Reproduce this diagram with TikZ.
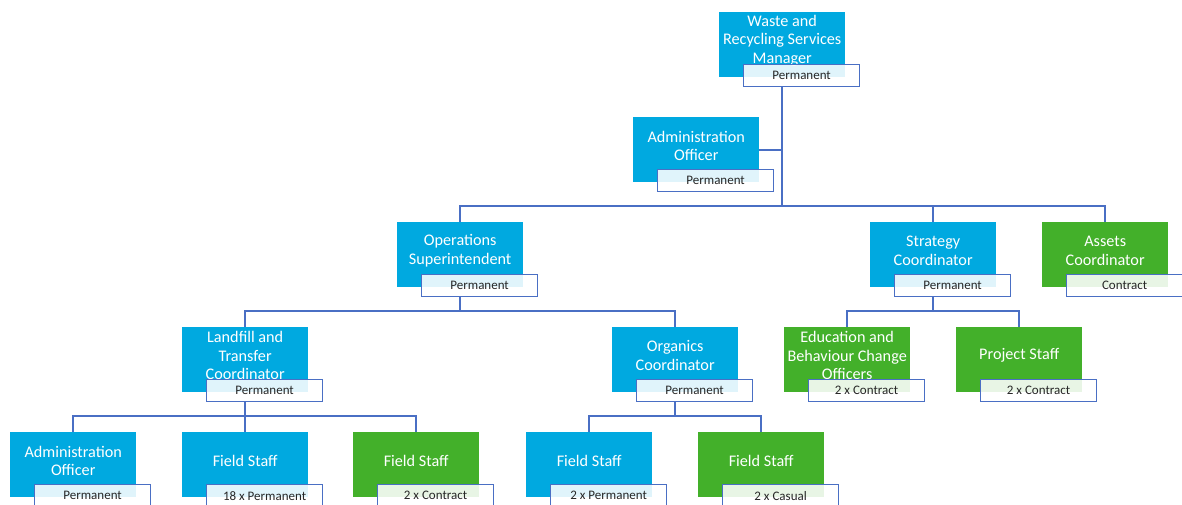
\documentclass[tikz,border=0pt]{standalone}
\usepackage{fontspec}
\setmainfont{Carlito}
\usetikzlibrary{backgrounds}
\definecolor{ublue}{HTML}{00A9E0}
\definecolor{ugreen}{HTML}{43B02A}
\definecolor{uline}{HTML}{4A6FC4}
\definecolor{utxt}{HTML}{262626}
\tikzset{
  ubox/.style={anchor=north west, minimum width=126pt, minimum height=65pt, inner sep=0pt, draw=none},
  utext/.style={text=white, align=center, inner sep=0pt, font=\fontsize{16.2}{18.5}\selectfont},
  ulab/.style={anchor=north west, minimum width=116pt, minimum height=22pt, inner sep=0pt,
    draw=uline, line width=1.2pt, fill=white, fill opacity=0.88, text opacity=1, text=utxt,
    font=\fontsize{13}{14}\selectfont},
  conn/.style={draw=uline, line width=1.6pt}
}
\newcommand\orgunit[6]{%
  \node[ubox, fill=#4] (#1) at (#2,#3) {};
  \node[utext] (#1-t) at ([yshift=4pt]#1.center) {#5};
  \node[ulab] (#1-l) at ([xshift=24pt,yshift=-52pt]#1.north west) {#6};
}
\begin{document}
\begin{tikzpicture}[x=1pt,y=-1pt]
\useasboundingbox (0,0) rectangle (1182,504);
\orgunit{top}{719}{12}{ublue}{Waste and\\Recycling Services\\Manager}{Permanent}
\orgunit{adm1}{633}{117}{ublue}{Administration\\Officer}{Permanent}
\orgunit{ops}{397}{222}{ublue}{Operations\\Superintendent}{Permanent}
\orgunit{strat}{870}{222}{ublue}{Strategy\\Coordinator}{Permanent}
\orgunit{assets}{1042}{222}{ugreen}{Assets\\Coordinator}{Contract}
\orgunit{land}{182}{327}{ublue}{Landfill and\\Transfer\\Coordinator}{Permanent}
\orgunit{org}{612}{327}{ublue}{Organics\\Coordinator}{Permanent}
\orgunit{edu}{784}{327}{ugreen}{Education and\\Behaviour Change\\Officers}{2 x Contract}
\orgunit{proj}{956}{327}{ugreen}{Project Staff}{2 x Contract}
\orgunit{adm2}{10}{432}{ublue}{Administration\\Officer}{Permanent}
\orgunit{fs1}{182}{432}{ublue}{Field Staff}{18 x Permanent}
\orgunit{fs2}{353}{432}{ugreen}{Field Staff}{2 x Contract}
\orgunit{fs3}{526}{432}{ublue}{Field Staff}{2 x Permanent}
\orgunit{fs4}{698}{432}{ugreen}{Field Staff}{2 x Casual}
\begin{scope}[on background layer]
  % level 2/3
  \draw[conn] (top-l.south -| top.south) -- ([yshift=16pt]strat.north -| top.south);
  \draw[conn] (adm1.east) -- (adm1.east -| top.south);
  \draw[conn] (ops.north) -- ++(0,-16) -| (assets.north);
  \draw[conn] (strat.north) -- ++(0,-16);
  % level 4
  \draw[conn] (ops-l.south -| ops.south) -- ([yshift=16pt]land.north -| ops.south);
  \draw[conn] (land.north) -- ++(0,-16) -| (org.north);
  \draw[conn] (strat-l.south -| strat.south) -- ([yshift=16pt]edu.north -| strat.south);
  \draw[conn] (edu.north) -- ++(0,-16) -| (proj.north);
  % level 5
  \draw[conn] (land-l.south -| land.south) -- ([yshift=16pt]adm2.north -| land.south);
  \draw[conn] (adm2.north) -- ++(0,-16) -| (fs2.north);
  \draw[conn] (fs1.north) -- ++(0,-16);
  \draw[conn] (org-l.south -| org.south) -- ([yshift=16pt]fs3.north -| org.south);
  \draw[conn] (fs3.north) -- ++(0,-16) -| (fs4.north);
\end{scope}
\end{tikzpicture}
\end{document}
